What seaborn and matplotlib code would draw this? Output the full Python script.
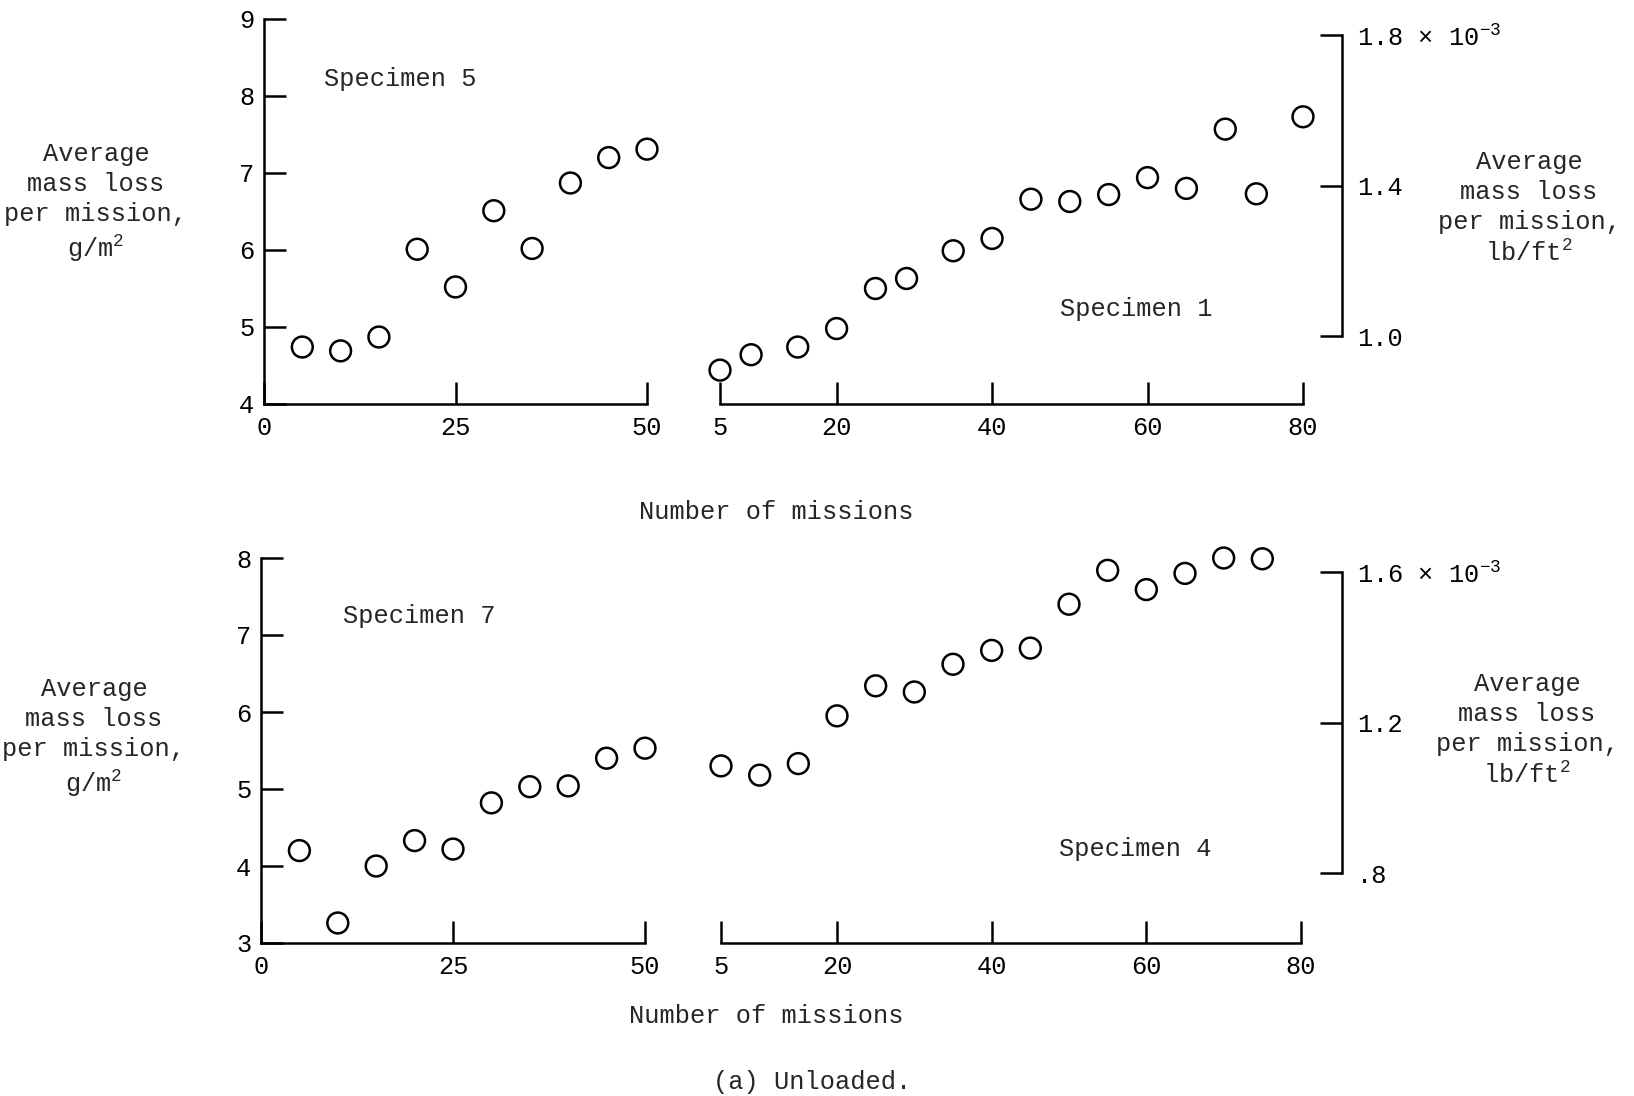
import matplotlib
matplotlib.use("Agg")
import matplotlib.pyplot as plt
import seaborn as sns

# ---- data: average mass loss per mission (g/m^2) vs number of missions ----
spec5_missions = [5, 10, 15, 20, 25, 30, 35, 40, 45, 50]
spec5_loss = [4.74, 4.69, 4.87, 6.01, 5.52, 6.51, 6.02, 6.87, 7.20, 7.31]

spec1_missions = [5, 9, 15, 20, 25, 29, 35, 40, 45, 50, 55, 60, 65, 70, 74, 80]
spec1_loss = [4.44, 4.64, 4.74, 4.98, 5.50, 5.63, 5.99, 6.15, 6.66, 6.63,
              6.72, 6.94, 6.80, 7.57, 6.73, 7.73]

spec7_missions = [5, 10, 15, 20, 25, 30, 35, 40, 45, 50]
spec7_loss = [4.20, 3.26, 4.00, 4.33, 4.22, 4.82, 5.03, 5.04, 5.40, 5.53]

spec4_missions = [5, 10, 15, 20, 25, 30, 35, 40, 45, 50, 55, 60, 65, 70, 75]
spec4_loss = [5.30, 5.18, 5.33, 5.95, 6.34, 6.26, 6.62, 6.80, 6.83, 7.40,
              7.84, 7.59, 7.80, 8.00, 7.99]

left_xticks = [0, 25, 50]
right_xticks = [5, 20, 40, 60, 80]
top_yticks = [4, 5, 6, 7, 8, 9]
bottom_yticks = [3, 4, 5, 6, 7, 8]
top_lb_ticks = [1.0, 1.4, 1.8]
top_lb_labels = ["1.0", "1.4", "1.8 \u00d7 10$^{\\mathsf{-3}}$"]
bottom_lb_ticks = [0.8, 1.2, 1.6]
bottom_lb_labels = [".8", "1.2", "1.6 \u00d7 10$^{\\mathsf{-3}}$"]

# 1 lb/ft^2 = 4882.43 g/m^2, so 1e-3 lb/ft^2 = 4.88243 g/m^2
G_PER_MILLI_LB = 4.88243

sns.set_style("white")
FONT = ["Liberation Mono", "DejaVu Sans Mono"]
FS = 18.3
plt.rcParams.update({
    "font.family": FONT,
    "font.size": FS,
    "mathtext.fontset": "custom",
    "mathtext.rm": "Liberation Mono",
    "mathtext.it": "Liberation Mono",
    "mathtext.sf": "Liberation Mono",
    "mathtext.default": "regular",
    "axes.linewidth": 1.8,
    "xtick.bottom": True,
    "ytick.left": True,
})

W, H = 1634, 1096
fig = plt.figure(figsize=(W / 100, H / 100), dpi=100)
fig.patch.set_facecolor("white")


def box(x0, x1, ytop, ybot):
    return [x0 / W, 1 - ybot / H, (x1 - x0) / W, (ybot - ytop) / H]


TICK_LEN = 16
LW = 1.8


def scatter(ax, x, y):
    sns.scatterplot(x=x, y=y, ax=ax, marker="o", s=225, facecolor="none",
                    edgecolor="black", linewidth=1.8, clip_on=False,
                    legend=False, zorder=5)
    for coll in ax.collections:
        coll.set_facecolor("none")
        coll.set_edgecolor("black")


def left_panel(pos, x, y, ylim, yticks):
    ax = fig.add_axes(pos)
    ax.set_facecolor("none")
    scatter(ax, x, y)
    ax.set_xlim(0, 50)
    ax.set_ylim(*ylim)
    ax.set_xticks(left_xticks)
    ax.set_yticks(yticks)
    for s in ("top", "right"):
        ax.spines[s].set_visible(False)
    for s in ("left", "bottom"):
        ax.spines[s].set_linewidth(LW)
        ax.spines[s].set_color("black")
    ax.tick_params(axis="both", direction="in", length=TICK_LEN, width=LW,
                   colors="black", labelsize=FS, bottom=True, left=True)
    ax.tick_params(axis="x", pad=9)
    ax.tick_params(axis="y", pad=7)
    ax.set_xlabel("")
    ax.set_ylabel("")
    return ax


def right_panel(pos, x, y, ylim, lb_ticks, lb_labels, outward):
    ax = fig.add_axes(pos)
    ax.set_facecolor("none")
    scatter(ax, x, y)
    ax.set_xlim(5, 80)
    ax.set_ylim(*ylim)
    ax.set_xticks(right_xticks)
    ax.set_yticks([])
    for s in ("top", "right", "left"):
        ax.spines[s].set_visible(False)
    ax.spines["bottom"].set_linewidth(LW)
    ax.spines["bottom"].set_color("black")
    ax.tick_params(axis="x", direction="in", length=TICK_LEN, width=LW,
                   colors="black", labelsize=FS, pad=9, bottom=True)
    ax.set_xlabel("")
    ax.set_ylabel("")

    axr = ax.twinx()
    axr.set_ylim(ylim[0] / G_PER_MILLI_LB, ylim[1] / G_PER_MILLI_LB)
    for s in ("top", "left", "bottom"):
        axr.spines[s].set_visible(False)
    axr.spines["right"].set_position(("outward", outward))
    axr.spines["right"].set_bounds(lb_ticks[0], lb_ticks[-1])
    axr.spines["right"].set_linewidth(LW)
    axr.spines["right"].set_color("black")
    axr.set_yticks(lb_ticks)
    axr.set_yticklabels(lb_labels)
    axr.tick_params(axis="y", direction="in", length=TICK_LEN, width=LW,
                    colors="black", labelsize=FS, pad=11, right=True,
                    left=False)
    return ax


# ---- top row ----
ax_tl = left_panel(box(264, 647, 19, 404), spec5_missions, spec5_loss,
                   (4, 9), top_yticks)
ax_tr = right_panel(box(720, 1303, 19, 404), spec1_missions, spec1_loss,
                    (4, 9), top_lb_ticks, top_lb_labels, 28)
ax_tl.text(7.8, 8.22, "Specimen 5", ha="left", va="center")
ax_tr.text(48.8, 5.23, "Specimen 1", ha="left", va="center")

# ---- bottom row ----
ax_bl = left_panel(box(261, 645, 558, 943), spec7_missions, spec7_loss,
                   (3, 8), bottom_yticks)
ax_br = right_panel(box(721, 1301, 558, 943), spec4_missions, spec4_loss,
                    (3, 8), bottom_lb_ticks, bottom_lb_labels, 29.5)
ax_bl.text(10.7, 7.25, "Specimen 7", ha="left", va="center")
ax_br.text(48.7, 4.22, "Specimen 4", ha="left", va="center")

# ---- axis titles ----
left_title = "Average\nmass loss\nper mission,\ng/m$^{\\mathsf{2}}$"
right_title = "Average\nmass loss\nper mission,\nlb/ft$^{\\mathsf{2}}$"


def ftext(xp, yp, s, **kw):
    fig.text(xp / W, 1 - yp / H, s, ha="center", va="center",
             multialignment="center", linespacing=1.32, **kw)


ftext(96, 203, left_title)
ftext(1529, 208, right_title)
ftext(94, 738, left_title)
ftext(1527, 730, right_title)

ftext(776, 512, "Number of missions")
ftext(766, 1016, "Number of missions")
ftext(812, 1082, "(a) Unloaded.")

fig.savefig("out.png", dpi=100, facecolor="white")
